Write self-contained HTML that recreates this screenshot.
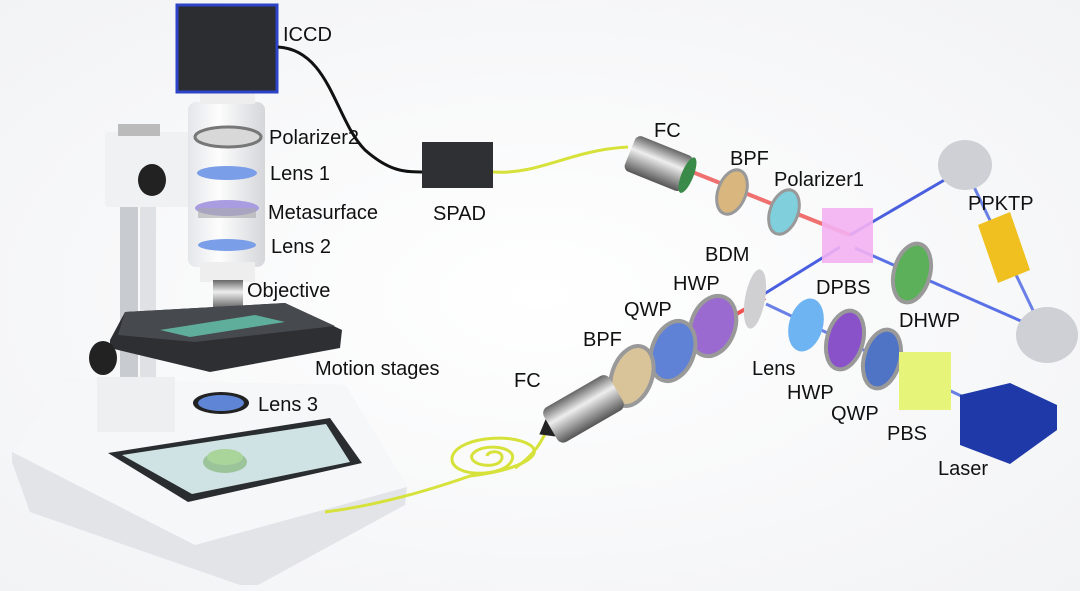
<!DOCTYPE html>
<html><head><meta charset="utf-8"><style>
body{margin:0;background:#fff}
svg{display:block}
text{font-family:"Liberation Sans",sans-serif;font-size:20px;fill:#111}
</style></head><body>
<svg width="1080" height="591" viewBox="0 0 1080 591" xmlns="http://www.w3.org/2000/svg">
<defs>
<linearGradient id="tube" x1="0" x2="1"><stop offset="0" stop-color="#e4e6ea"/><stop offset=".4" stop-color="#fdfdfd"/><stop offset="1" stop-color="#d4d6da"/></linearGradient>
<linearGradient id="metal" x1="0" y1="0" x2="0" y2="1"><stop offset="0" stop-color="#666"/><stop offset=".4" stop-color="#eee"/><stop offset="1" stop-color="#555"/></linearGradient>
<radialGradient id="bg" cx=".5" cy=".5" r=".7"><stop offset="0" stop-color="#fff"/><stop offset="1" stop-color="#f2f3f5"/></radialGradient>
</defs>
<rect width="1080" height="591" fill="url(#bg)"/>
<!-- base -->
<polygon points="12,452 60,380 345,385 407,487 405,505 258,585 240,585 30,512 12,462" fill="#e2e4e8"/>
<polygon points="12,452 60,380 345,385 407,487 195,545" fill="#f6f7f9"/>
<polygon points="108,453 330,418 362,463 188,502" fill="#2a2d30"/>
<polygon points="122,455 326,424 350,462 192,494" fill="#cfe3e5"/>
<ellipse cx="225" cy="462" rx="22" ry="11" fill="#9bc49a"/>
<ellipse cx="225" cy="457" rx="18" ry="8" fill="#a9d49a"/>
<!-- pillars -->
<rect x="120" y="200" width="18" height="190" fill="#c8cbd0"/>
<rect x="140" y="200" width="16" height="190" fill="#dfe1e4"/>
<rect x="97" y="377" width="78" height="55" fill="#eeeff1"/>
<!-- arm -->
<rect x="105" y="132" width="85" height="75" fill="#f0f1f3" rx="4"/>
<rect x="118" y="124" width="42" height="12" fill="#bbb"/>
<ellipse cx="152" cy="180" rx="14" ry="16" fill="#222"/>
<!-- tube -->
<rect x="188" y="102" width="77" height="165" rx="8" fill="url(#tube)"/>
<rect x="200" y="92" width="55" height="12" fill="#eee"/>
<rect x="200" y="262" width="55" height="20" fill="#eee"/>
<rect x="213" y="280" width="30" height="30" fill="url(#metal)"/>
<ellipse cx="228" cy="137" rx="33" ry="10" fill="#d8d8d8" stroke="#777" stroke-width="3"/>
<ellipse cx="227" cy="173" rx="30" ry="7" fill="#7b9ee8"/>
<ellipse cx="227" cy="208" rx="32" ry="8" fill="#a99ce0"/>
<rect x="198" y="208" width="58" height="10" fill="#aaa" opacity=".6"/>
<ellipse cx="227" cy="245" rx="29" ry="6" fill="#7b9ee8"/>
<!-- ICCD -->
<rect x="177" y="5" width="100" height="87" fill="#2c2d30" stroke="#2d44c8" stroke-width="3"/>
<!-- stage -->
<polygon points="110,340 125,312 285,303 342,330 340,348 210,372 110,348" fill="#2d2f33"/>
<polygon points="125,312 285,303 335,326 195,342 118,335" fill="#46494e"/>
<polygon points="160,330 255,315 285,322 190,337" fill="#5fae9c"/>
<ellipse cx="103" cy="358" rx="14" ry="17" fill="#222"/>
<ellipse cx="221" cy="403" rx="28" ry="11" fill="#222"/>
<ellipse cx="221" cy="403" rx="23" ry="8" fill="#5f86d6"/>
<!-- cables -->
<path d="M278,47 C330,50 335,120 365,150 C390,172 405,172 425,172" stroke="#111" stroke-width="3" fill="none"/>
<rect x="422" y="142" width="71" height="46" fill="#2f3033"/>
<path d="M493,172 C540,175 570,150 628,147" stroke="#d6e23a" stroke-width="3" fill="none"/>
<path d="M325,512 C380,505 430,490 470,476 C520,470 545,455 530,445 C510,432 455,438 452,458 C450,478 505,478 512,460 C518,446 480,442 472,455 C468,466 500,470 502,458 C503,450 488,450 487,456" stroke="#d6e23a" stroke-width="3" fill="none"/>
<path d="M515,468 C535,455 542,440 546,432" stroke="#d6e23a" stroke-width="3" fill="none"/>
<!-- beams -->
<line x1="680" y1="167" x2="850" y2="235" stroke="#f07070" stroke-width="4"/>
<line x1="850" y1="235" x2="965" y2="168" stroke="#4a5fe0" stroke-width="3"/>
<line x1="965" y1="168" x2="1040" y2="325" stroke="#6a80e6" stroke-width="3"/>
<line x1="855" y1="248" x2="1030" y2="325" stroke="#5a70e6" stroke-width="3"/>
<line x1="764" y1="294" x2="840" y2="247" stroke="#4a5fe0" stroke-width="3"/>
<line x1="765" y1="298" x2="575" y2="405" stroke="#f05050" stroke-width="4"/>
<line x1="766" y1="304" x2="974" y2="402" stroke="#6a80e6" stroke-width="3"/>
<!-- top FC -->
<g transform="rotate(22 660 163)"><rect x="628" y="145" width="62" height="38" rx="6" fill="url(#metal)"/><ellipse cx="690" cy="164" rx="6" ry="19" fill="#3a8a4a"/></g>
<ellipse cx="732" cy="192" rx="14" ry="23" fill="#d8b67e" stroke="#999" stroke-width="3" transform="rotate(20 732 192)"/>
<ellipse cx="784" cy="212" rx="14" ry="23" fill="#7fd0dc" stroke="#999" stroke-width="3" transform="rotate(20 784 212)"/>
<rect x="822" y="208" width="51" height="55" fill="#f3b0f2" opacity=".9"/>
<ellipse cx="965" cy="165" rx="27" ry="25" fill="#cfd0d5"/>
<ellipse cx="1047" cy="335" rx="31" ry="28" fill="#cfd0d5"/>
<polygon points="978,225 1010,212 1030,270 998,283" fill="#f0c020"/>
<ellipse cx="912" cy="273" rx="18" ry="30" fill="#5cb05a" stroke="#999" stroke-width="4" transform="rotate(15 912 273)"/>
<ellipse cx="755" cy="299" rx="10" ry="30" fill="#d0d0d3" transform="rotate(10 755 299)"/>
<ellipse cx="713" cy="326" rx="22" ry="31" fill="#9a6ad0" stroke="#999" stroke-width="4" transform="rotate(20 713 326)"/>
<ellipse cx="673" cy="351" rx="21" ry="31" fill="#5f82d6" stroke="#999" stroke-width="4" transform="rotate(20 673 351)"/>
<ellipse cx="632" cy="376" rx="20" ry="31" fill="#d9c399" stroke="#999" stroke-width="4" transform="rotate(20 632 376)"/>
<g transform="rotate(-30 583 408)"><rect x="545" y="389" width="76" height="40" rx="7" fill="url(#metal)"/><polygon points="545,399 532,409 545,419" fill="#222"/></g>
<ellipse cx="806" cy="325" rx="17" ry="27" fill="#6fb4f2" transform="rotate(15 806 325)"/>
<ellipse cx="845" cy="340" rx="18" ry="30" fill="#8a52c8" stroke="#999" stroke-width="4" transform="rotate(15 845 340)"/>
<ellipse cx="882" cy="359" rx="18" ry="30" fill="#4f74c6" stroke="#999" stroke-width="4" transform="rotate(15 882 359)"/>
<rect x="899" y="352" width="52" height="58" fill="#e6f57a"/>
<polygon points="960,395 1010,383 1057,405 1057,430 1010,464 960,445" fill="#1f3aa8"/>
<!-- labels -->
<text x="283" y="41">ICCD</text>
<text x="269" y="144">Polarizer2</text>
<text x="270" y="180">Lens 1</text>
<text x="268" y="219">Metasurface</text>
<text x="271" y="253">Lens 2</text>
<text x="433" y="220">SPAD</text>
<text x="247" y="297">Objective</text>
<text x="315" y="375">Motion stages</text>
<text x="258" y="411">Lens 3</text>
<text x="654" y="137">FC</text>
<text x="730" y="165">BPF</text>
<text x="774" y="186">Polarizer1</text>
<text x="968" y="210">PPKTP</text>
<text x="705" y="261">BDM</text>
<text x="816" y="294">DPBS</text>
<text x="673" y="290">HWP</text>
<text x="624" y="316">QWP</text>
<text x="899" y="327">DHWP</text>
<text x="583" y="346">BPF</text>
<text x="752" y="375">Lens</text>
<text x="787" y="399">HWP</text>
<text x="831" y="420">QWP</text>
<text x="887" y="440">PBS</text>
<text x="938" y="475">Laser</text>
<text x="514" y="387">FC</text>
</svg>
</body></html>
